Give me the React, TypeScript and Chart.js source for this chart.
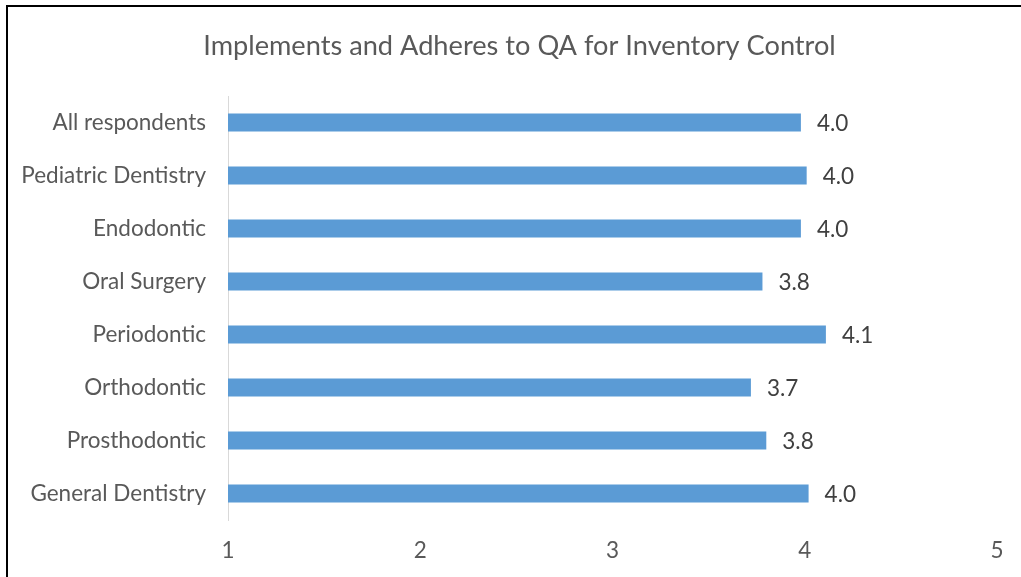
import React, { useEffect, useRef } from "react";
import { Chart, registerables } from "chart.js";

Chart.register(...registerables);

const categories = [
  "All respondents",
  "Pediatric Dentistry",
  "Endodontic",
  "Oral Surgery",
  "Periodontic",
  "Orthodontic",
  "Prosthodontic",
  "General Dentistry",
];
const values = [3.98, 4.01, 3.98, 3.78, 4.11, 3.72, 3.8, 4.02];
const xTicks = [1, 2, 3, 4, 5];
const titleText = "Implements and Adheres to QA for Inventory Control";

const FONT = "Lato, 'Open Sans', sans-serif";

const framePlugin = {
  id: "frame",
  afterDraw(chart: any) {
    const ctx = chart.ctx;
    ctx.save();
    ctx.fillStyle = "#000000";
    ctx.fillRect(6, 5, 2, chart.height - 5);
    ctx.fillRect(6, 5, chart.width - 6, 2);
    ctx.restore();
  },
};

const valueLabelPlugin = {
  id: "valueLabels",
  afterDatasetsDraw(chart: any) {
    const ctx = chart.ctx;
    const meta = chart.getDatasetMeta(0);
    ctx.save();
    ctx.font = `22.5px ${FONT}`;
    ctx.fillStyle = "#404040";
    ctx.textAlign = "left";
    ctx.textBaseline = "middle";
    meta.data.forEach((bar: any, i: number) => {
      ctx.fillText(values[i].toFixed(1), bar.x + 16, bar.y + 1);
    });
    ctx.restore();
  },
};

export default function App() {
  const canvasRef = useRef<HTMLCanvasElement | null>(null);

  useEffect(() => {
    if (!canvasRef.current) return;
    const chart = new Chart(canvasRef.current, {
      type: "bar",
      data: {
        labels: categories,
        datasets: [
          {
            data: values,
            backgroundColor: "#5B9BD5",
            borderWidth: 0,
            categoryPercentage: 1,
            barPercentage: 0.34,
          },
        ],
      },
      options: {
        indexAxis: "y",
        responsive: false,
        animation: false,
        devicePixelRatio: 1,
        layout: { padding: { left: 20, right: 2, top: 0, bottom: 0 } },
        plugins: {
          legend: { display: false },
          tooltip: { enabled: false },
          title: {
            display: true,
            text: titleText,
            color: "#595959",
            font: { family: FONT, size: 27.2, weight: "normal" },
            padding: { top: 30, bottom: 33.4 },
          },
        },
        scales: {
          x: {
            type: "linear",
            min: xTicks[0],
            max: xTicks[xTicks.length - 1],
            afterBuildTicks(scale: any) {
              scale.ticks = xTicks.map((v) => ({ value: v }));
            },
            afterFit(scale: any) {
              scale.height = 57;
              scale.paddingRight = 24;
            },
            grid: { display: false, drawTicks: false },
            border: { display: false },
            ticks: {
              color: "#595959",
              font: { family: FONT, size: 22.5 },
              padding: 17,
            },
          },
          y: {
            type: "category",
            afterFit(scale: any) {
              scale.width = 208;
            },
            grid: { display: false, drawTicks: false },
            border: { display: true, color: "#D9D9D9", width: 1 },
            ticks: {
              color: "#595959",
              font: { family: FONT, size: 22.5 },
              padding: 22,
            },
          },
        },
      },
      plugins: [framePlugin, valueLabelPlugin],
    });
    return () => chart.destroy();
  }, []);

  return (
    <div style={{ position: "absolute", left: 0, top: 0, width: 1021, height: 577, background: "#ffffff" }}>
      <canvas ref={canvasRef} width={1021} height={577} style={{ display: "block" }} />
    </div>
  );
}
